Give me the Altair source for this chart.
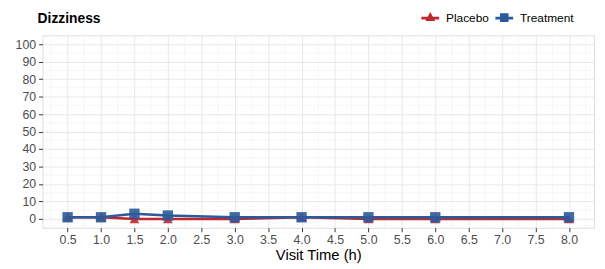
import altair as alt
import pandas as pd

chart_title = "Dizziness"
times = [0.5, 1.0, 1.5, 2.0, 3.0, 4.0, 5.0, 6.0, 8.0]
placebo = [1, 1, 0, 0, 0, 1, 0, 0, 0]
treatment = [1, 1, 3, 2, 1, 1, 1, 1, 1]
groups = ["Placebo", "Treatment"]
colors = ["#C0282F", "#2B5A9A"]
x_ticks = [0.5 + 0.5 * i for i in range(16)]
y_ticks = list(range(0, 101, 10))
x_minor = [0.25 + 0.5 * i for i in range(17)]
y_minor = list(range(5, 101, 10))

rows = []
for g, vals in zip(groups, [placebo, treatment]):
    for t, v in zip(times, vals):
        rows.append({"time": t, "value": v, "group": g})
df = pd.DataFrame(rows)

FONT = "Liberation Sans"
xscale = alt.Scale(domain=[0.125, 8.375], nice=False, zero=False)
yscale = alt.Scale(domain=[-5, 105], nice=False, zero=False)
cscale = alt.Scale(domain=groups, range=colors)

leg_tri = "M0,-0.62L0.55,0.38H-0.55Z M-1,-0.1H1V0.2H-1Z"
leg_sq = "M-0.48,-0.48H0.48V0.48H-0.48Z M-1,-0.1H1V0.2H-1Z"

x_axis = alt.Axis(values=x_ticks, format=".1f", title="Visit Time (h)",
                  grid=True, gridColor="#E8E8E8", gridWidth=1, labelOverlap=False,
                  domain=False, tickColor="#333333", tickSize=4,
                  labelColor="#4D4D4D", labelFontSize=12.5, labelFont=FONT,
                  labelPadding=2, titleFont=FONT, titleFontSize=15,
                  titleFontWeight="normal", titleColor="#000000", titlePadding=2)
y_axis = alt.Axis(values=y_ticks, title=None, labelOverlap=False,
                  grid=True, gridColor="#E8E8E8", gridWidth=1,
                  domain=False, tickColor="#333333", tickSize=4,
                  labelColor="#4D4D4D", labelFontSize=12.5, labelFont=FONT,
                  labelPadding=3)

xm = pd.DataFrame({"x": x_minor})
ym = pd.DataFrame({"y": y_minor})
minor_x = alt.Chart(xm).mark_rule(color="#EFEFEF", strokeWidth=0.6).encode(
    x=alt.X("x:Q", scale=xscale, axis=x_axis))
minor_y = alt.Chart(ym).mark_rule(color="#EFEFEF", strokeWidth=0.6).encode(
    y=alt.Y("y:Q", scale=yscale, axis=y_axis))

X = alt.X("time:Q", scale=xscale, axis=x_axis)
Y = alt.Y("value:Q", scale=yscale, axis=y_axis)

layers = [minor_x, minor_y]
shapes = ["triangle-up", "square"]
sizes = [100, 110]
for g, c in zip(groups, colors):
    layers.append(alt.Chart(df).transform_filter(alt.datum.group == g)
                  .mark_line(strokeWidth=2.6, color=c).encode(x=X, y=Y))
for g, c, s, sz in zip(groups, colors, shapes, sizes):
    layers.append(alt.Chart(df).transform_filter(alt.datum.group == g)
                  .mark_point(shape=s, filled=True, size=sz, opacity=0.9, color=c)
                  .encode(x=X, y=Y))

leg = alt.Legend(title=None, orient="none", direction="horizontal",
                 legendX=384, legendY=-27, symbolSize=324,
                 symbolOpacity=1, symbolStrokeWidth=0,
                 labelFont=FONT, labelFontSize=12, labelColor="#000000",
                 labelOffset=7, columnPadding=6, padding=0)

legend_layer = alt.Chart(df).mark_point(filled=True, opacity=0).encode(
    x=X, y=Y,
    color=alt.Color("group:N", scale=cscale, legend=leg),
    shape=alt.Shape("group:N", scale=alt.Scale(domain=groups, range=[leg_tri, leg_sq]),
                    legend=leg),
)
layers.append(legend_layer)

title_layer = alt.Chart(pd.DataFrame({"t": [chart_title]})).mark_text(
    align="left", baseline="alphabetic", fontSize=14, fontWeight="bold",
    font=FONT, color="#000000").encode(
    x=alt.value(-5), y=alt.value(-13), text="t:N")
layers.append(title_layer)

chart = alt.layer(*layers).properties(
    width=559, height=195,
    autosize=alt.AutoSizeParams(type="none"),
    padding={"left": 35, "top": 26, "right": 3, "bottom": 36},
).configure_view(stroke="#888888", strokeWidth=1).configure(background="white")

chart.save("out.html", embed_options={"renderer": "svg", "actions": False})
